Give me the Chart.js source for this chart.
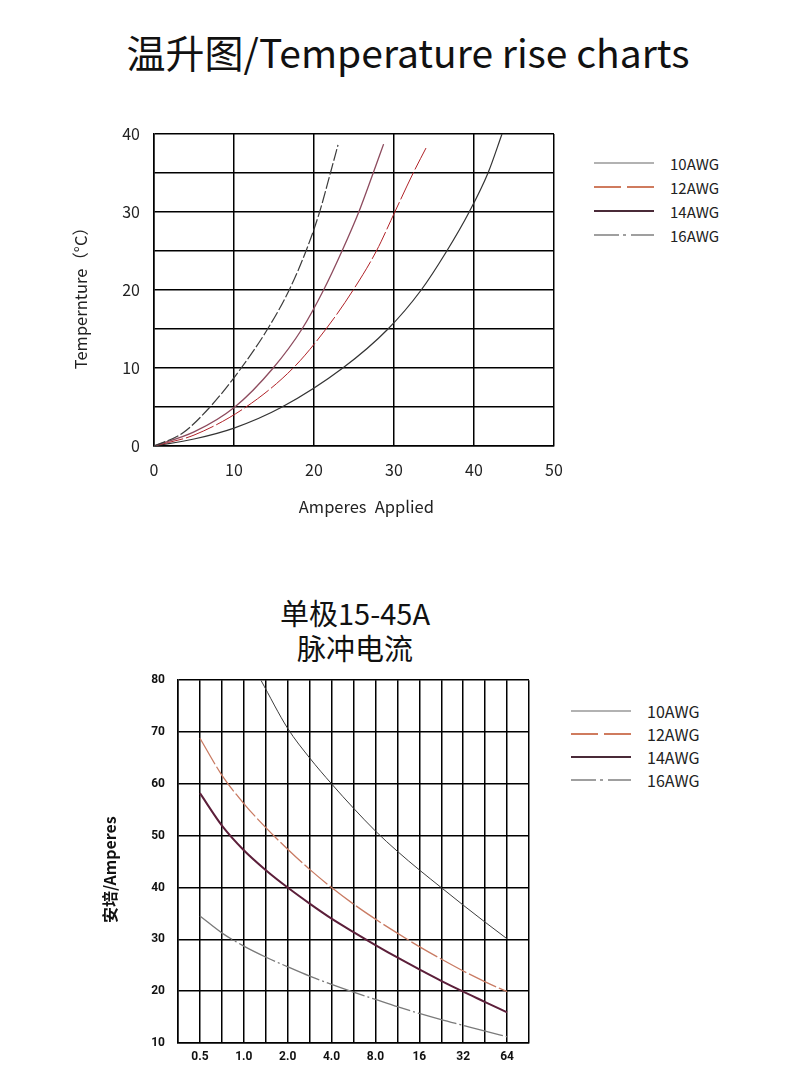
<!DOCTYPE html>
<html>
<head>
<meta charset="utf-8">
<script src="https://cdn.jsdelivr.net/npm/chart.js@4.4.1/dist/chart.umd.min.js"></script>
<style>
  body { margin: 0; background: #fff; width: 790px; height: 1078px; position: relative; overflow: hidden;
         font-family: "Noto Sans CJK SC", sans-serif; color: #111; }
  .title { position: absolute; text-align: center; white-space: nowrap; }
  #t1 { left: 0; width: 816px; top: 29px; font-size: 39px; line-height: 44px; }
  #t2 { left: 155px; width: 400px; top: 595px; font-size: 29px; line-height: 35px; }
  #wrap1 { position: absolute; left: 0; top: 100px; width: 580px; height: 440px; }
  #wrap2 { position: absolute; left: 0; top: 660px; width: 560px; height: 418px; }
  .legend { position: absolute; color: #222; }
  .legend div { display: flex; align-items: center; white-space: nowrap; }
  .legend svg { margin-right: 16px; }
  #leg1 { left: 594px; top: 151px; font-size: 15px; }
  #leg1 div { height: 24px; }
  #leg2 { left: 571px; top: 699px; font-size: 16px; }
  #leg2 div { height: 23px; }
</style>
</head>
<body>
<div class="title" id="t1">温升图/Temperature rise charts</div>
<div id="wrap1"><canvas id="riseChart"></canvas></div>
<div class="legend" id="leg1"></div>

<div class="title" id="t2">单极15-45A<br>脉冲电流</div>
<div id="wrap2"><canvas id="pulseChart"></canvas></div>
<div class="legend" id="leg2"></div>

<script>
// wire gauges (legend order)
var gauges = ['10AWG', '12AWG', '14AWG', '16AWG'];

// temperature rise chart: amperes -> temperature rise (read where curves cross the grid)
var amps10 = [0, 5, 10, 16.0, 23.6, 29.25, 33.4, 36.6, 39.4, 41.75, 43.5];
var temp10 = [0, 0.9, 2.3, 5, 10, 15, 20, 25, 30, 35, 40];
var amps12 = [0, 5, 11.5, 17.4, 21.5, 24.9, 27.8, 30.1, 32.4, 34.0];
var temp12 = [0, 1.4, 5, 10, 15, 20, 25, 30, 35, 38.2];
var amps14 = [0, 5, 10.1, 14.9, 18.5, 21.2, 23.5, 25.6, 27.4, 28.7];
var temp14 = [0, 1.8, 5, 10, 15, 20, 25, 30, 35, 38.7];
var amps16 = [0, 3.5, 7.0, 10.9, 14.2, 16.9, 19.0, 20.7, 22.05, 23.0];
var temp16 = [0, 1.6, 5, 10, 15, 20, 25, 30, 35, 38.6];

// pulse current chart: seconds -> amperes
var time10 = [1.31, 2, 2.83, 4, 5.66, 8, 11.3, 16, 22.6, 32, 45.3, 64];
var pulse10 = [80, 70.7, 65.0, 60.0, 55.3, 50.9, 47.0, 43.4, 40.0, 36.6, 33.3, 30.1];
var timeSec = [0.5, 0.71, 1, 1.41, 2, 2.83, 4, 5.66, 8, 11.3, 16, 22.6, 32, 45.3, 64];
var pulse12 = [68.8, 61.6, 56.2, 51.6, 47.4, 43.5, 40.0, 36.8, 33.9, 31.2, 28.6, 26.2, 23.9, 21.8, 19.9];
var pulse14 = [58.2, 51.9, 47.2, 43.4, 40.0, 36.9, 34.0, 31.4, 28.9, 26.5, 24.2, 22.0, 19.9, 17.9, 15.9];
var pulse16 = [34.5, 31.2, 28.7, 26.6, 24.7, 22.9, 21.3, 19.8, 18.4, 17.0, 15.7, 14.5, 13.4, 12.3, 11.2];

// bottom axis labels (log2 steps)
var timeLabels = ['0.5', '1.0', '2.0', '4.0', '8.0', '16', '32', '64'];
var timeLabelValues = [0.5, 1, 2, 4, 8, 16, 32, 64];

function toPoints(xs, ys) {
    return xs.map(function (x, i) { return { x: x, y: ys[i] }; });
}

function lineSet(label, xs, ys, color, width, dash) {
    return {
        label: label,
        data: toPoints(xs, ys),
        borderColor: color,
        borderWidth: width,
        borderDash: dash,
        pointRadius: 0,
        fill: false,
        cubicInterpolationMode: 'monotone'
    };
}

// legend lines are drawn as small svg samples next to real text
function buildLegend(id, styles) {
    var box = document.getElementById(id);
    gauges.forEach(function (g, i) {
        var s = styles[i];
        var row = document.createElement('div');
        row.innerHTML = '<svg width="60" height="4"><line x1="0" y1="2" x2="60" y2="2" stroke="' + s.color +
            '" stroke-width="' + s.width + '" stroke-dasharray="' + s.dash + '"/></svg><span>' + g + '</span>';
        box.appendChild(row);
    });
}

var legendStyles = [
    { color: '#666', width: 1.2, dash: '' },
    { color: '#c0502a', width: 1.6, dash: '27 6' },
    { color: '#4a2a38', width: 1.8, dash: '' },
    { color: '#808080', width: 1.4, dash: '25 4 3 5 23' }
];
buildLegend('leg1', legendStyles);
buildLegend('leg2', legendStyles);

var gridStyle = { color: '#000', lineWidth: 1.5, drawTicks: false };
var borderStyle = { color: '#000', width: 1.5 };

new Chart(document.getElementById('riseChart'), {
    type: 'line',
    data: {
        datasets: [
            lineSet(gauges[3], amps16, temp16, '#3c3c3c', 1.2, [12, 2.5]),
            lineSet(gauges[2], amps14, temp14, '#8d4b5e', 1.3, []),
            lineSet(gauges[1], amps12, temp12, '#b02228', 1.0, [30, 3]),
            lineSet(gauges[0], amps10, temp10, '#333', 1.2, [])
        ]
    },
    options: {
        responsive: true,
        maintainAspectRatio: false,
        animation: false,
        layout: { padding: { left: 0, top: 34, right: 26, bottom: 14 } },
        plugins: { legend: { display: false }, tooltip: { enabled: false } },
        scales: {
            x: {
                type: 'linear', min: 0, max: 50,
                grid: gridStyle, border: borderStyle,
                ticks: { stepSize: 10, padding: 14, color: '#222', maxRotation: 0,
                         font: { family: 'Noto Sans CJK SC', size: 16 } },
                title: { display: true, text: '\u3000\u2002Amperes\u2002Applied', color: '#222',
                         padding: { top: 0, bottom: 9.4 }, font: { family: 'Noto Sans CJK SC', size: 16.5 } },
                afterFit: function (s) { s.height = 80; }
            },
            y: {
                min: 0, max: 40,
                grid: gridStyle, border: borderStyle,
                ticks: { stepSize: 5, padding: 14, color: '#222',
                         font: { family: 'Noto Sans CJK SC', size: 16 },
                         callback: function (v) { return v % 10 === 0 ? v : ''; } },
                title: { display: true, text: 'Tempernture（°C）\u3000', color: '#222',
                         padding: { top: 70.4, bottom: 0 }, font: { family: 'Noto Sans CJK SC', size: 16.5 } },
                afterFit: function (s) { s.width = 154; }
            }
        }
    }
});

new Chart(document.getElementById('pulseChart'), {
    type: 'line',
    data: {
        datasets: [
            lineSet(gauges[0], time10, pulse10, '#3d3d3d', 1.0, []),
            lineSet(gauges[1], timeSec, pulse12, '#c97b63', 1.3, [30, 3]),
            lineSet(gauges[2], timeSec, pulse14, '#5c1f3a', 2.0, []),
            lineSet(gauges[3], timeSec, pulse16, '#7a7a7a', 1.3, [40, 3, 2, 3])
        ]
    },
    options: {
        responsive: true,
        maintainAspectRatio: false,
        animation: false,
        layout: { padding: { left: 0, top: 20, right: 31, bottom: 5 } },
        plugins: { legend: { display: false }, tooltip: { enabled: false } },
        scales: {
            x: {
                type: 'logarithmic',
                min: Math.pow(2, -1.5), max: Math.pow(2, 6.5),
                grid: gridStyle, border: borderStyle,
                afterBuildTicks: function (s) {
                    var t = [];
                    for (var k = -3; k <= 13; k++) t.push({ value: Math.pow(2, k / 2) });
                    s.ticks = t;
                },
                ticks: { autoSkip: false, maxRotation: 0, padding: 7, color: '#111',
                         font: { family: 'Roboto', size: 12, weight: 'bold' },
                         callback: function (v) {
                             for (var i = 0; i < timeLabelValues.length; i++) {
                                 if (Math.abs(v - timeLabelValues[i]) < 1e-6) return timeLabels[i];
                             }
                             return '';
                         } },
                afterFit: function (s) { s.height = 30; }
            },
            y: {
                min: 10, max: 80,
                grid: gridStyle, border: borderStyle,
                ticks: { stepSize: 10, padding: 13, color: '#111',
                         font: { family: 'Roboto', size: 12, weight: 'bold' } },
                title: { display: true, text: '安培/Amperes\u2002\u2002', color: '#111',
                         padding: { top: 100.4, bottom: 0 },
                         font: { family: 'Noto Sans CJK SC', size: 16, weight: 'bold' } },
                afterFit: function (s) { s.width = 178; }
            }
        }
    }
});
</script>
</body>
</html>
